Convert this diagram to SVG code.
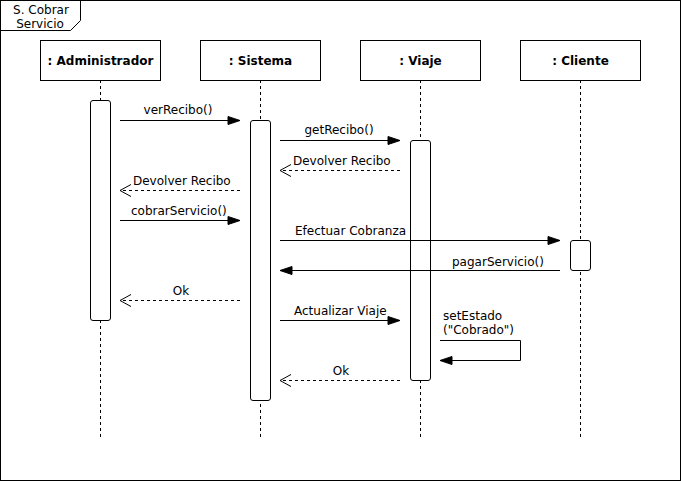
<svg xmlns="http://www.w3.org/2000/svg" width="681" height="481" viewBox="0 0 681 481">
  <style>
    text { font-family: "DejaVu Sans", Verdana, sans-serif; font-size: 12px; fill: #000; }
    .head { font-weight: bold; text-anchor: middle; }
    .frame { fill: #fff; stroke: #000; stroke-width: 1; }
    .box { fill: #fff; stroke: #000; stroke-width: 1; }
    .life { stroke: #000; stroke-width: 1; stroke-dasharray: 3 3; fill: none; }
    .act { fill: #fff; stroke: #000; stroke-width: 1; }
    .call { stroke: #000; stroke-width: 1; fill: none; marker-end: url(#block); }
    .ret { stroke: #000; stroke-width: 1; fill: none; stroke-dasharray: 3 3; marker-end: url(#open); }
    .mid { text-anchor: middle; }
  </style>
  <defs>
    <marker id="block" markerUnits="userSpaceOnUse" markerWidth="14" markerHeight="10" refX="12" refY="4" orient="auto" overflow="visible">
      <path d="M0,0 L12,4 L0,8 Z" fill="#000" stroke="#000" stroke-width="1"/>
    </marker>
    <marker id="open" markerUnits="userSpaceOnUse" markerWidth="14" markerHeight="14" refX="11" refY="6" orient="auto" overflow="visible">
      <path d="M0,0 L11,6 L0,12" fill="none" stroke="#000" stroke-width="1"/>
    </marker>
  </defs>

  <!-- outer frame with its name tab -->
  <g id="frame">
    <rect class="frame" x="0.5" y="0.5" width="680" height="480"/>
    <path d="M0.5,30.5 L70.5,30.5 L80.5,20.5 L80.5,0.5" fill="none" stroke="#000"/>
    <text class="mid" x="41" y="14">S. Cobrar</text>
    <text class="mid" x="40" y="28">Servicio</text>
  </g>

  <!-- lifelines -->
  <g id="lifelines">
    <line class="life" x1="100.5" y1="80" x2="100.5" y2="440"/>
    <line class="life" x1="260.5" y1="80" x2="260.5" y2="440"/>
    <line class="life" x1="420.5" y1="80" x2="420.5" y2="440"/>
    <line class="life" x1="580.5" y1="80" x2="580.5" y2="440"/>
  </g>

  <g id="administrador">
    <rect class="box" x="40.5" y="40.5" width="120" height="40"/>
    <text class="head" x="100.5" y="65">: Administrador</text>
    <rect class="act" x="90.5" y="100.5" width="20" height="220" rx="2.5"/>
  </g>

  <g id="sistema">
    <rect class="box" x="200.5" y="40.5" width="120" height="40"/>
    <text class="head" x="260.5" y="65">: Sistema</text>
    <rect class="act" x="250.5" y="120.5" width="20" height="280" rx="2.5"/>
  </g>

  <g id="viaje">
    <rect class="box" x="360.5" y="40.5" width="120" height="40"/>
    <text class="head" x="420.5" y="65">: Viaje</text>
    <rect class="act" x="410.5" y="140.5" width="20" height="240" rx="2.5"/>
  </g>

  <g id="cliente">
    <rect class="box" x="520.5" y="40.5" width="120" height="40"/>
    <text class="head" x="580.5" y="65">: Cliente</text>
    <rect class="act" x="570.5" y="240.5" width="20" height="30" rx="2.5"/>
  </g>

  <!-- messages -->
  <g id="messages">
    <line class="call" x1="120" y1="120.5" x2="240" y2="120.5"/>
    <text class="mid" x="178" y="114">verRecibo()</text>

    <line class="call" x1="280" y1="140.5" x2="400" y2="140.5"/>
    <text class="mid" x="339" y="134">getRecibo()</text>

    <line class="ret" x1="400" y1="170.5" x2="280" y2="170.5"/>
    <text x="293" y="165">Devolver Recibo</text>

    <line class="ret" x1="240" y1="190.5" x2="120" y2="190.5"/>
    <text x="133" y="185">Devolver Recibo</text>

    <line class="call" x1="120" y1="220.5" x2="240" y2="220.5"/>
    <text x="131" y="215">cobrarServicio()</text>

    <line class="call" x1="280" y1="240.5" x2="560" y2="240.5"/>
    <text x="295" y="235">Efectuar Cobranza</text>

    <line class="call" x1="560" y1="270.5" x2="280" y2="270.5"/>
    <text x="452" y="266">pagarServicio()</text>

    <line class="ret" x1="240" y1="300.5" x2="120" y2="300.5"/>
    <text class="mid" x="181" y="295">Ok</text>

    <line class="call" x1="280" y1="320.5" x2="400" y2="320.5"/>
    <text x="294" y="315">Actualizar Viaje</text>

    <path class="call" d="M440,340.5 L520.5,340.5 L520.5,360.5 L440,360.5"/>
    <text x="443" y="320">setEstado</text>
    <text x="443" y="334">("Cobrado")</text>

    <line class="ret" x1="400" y1="380.5" x2="280" y2="380.5"/>
    <text class="mid" x="341" y="375">Ok</text>
  </g>
</svg>
